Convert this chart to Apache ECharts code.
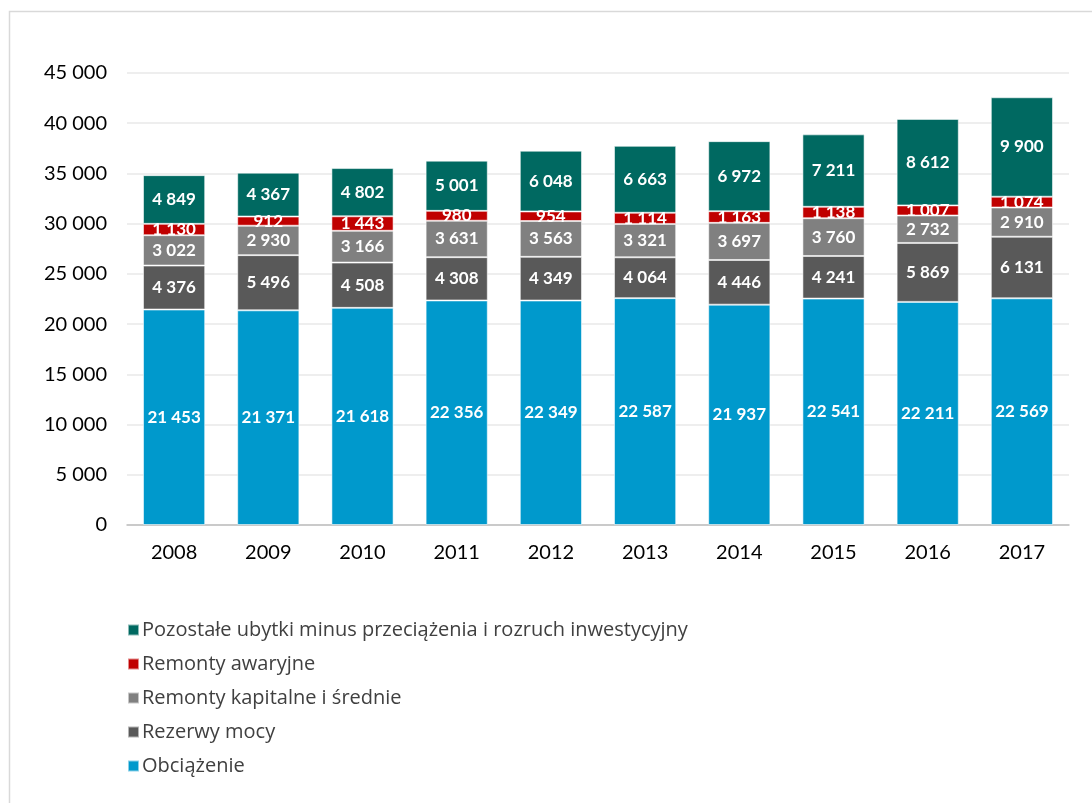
<!DOCTYPE html>
<html>
<head>
<meta charset="utf-8">
<script src="https://cdn.jsdelivr.net/npm/echarts@6/dist/echarts.min.js"></script>
<style>html,body{margin:0;padding:0;background:#fff;}#c{width:1092px;height:803px;}</style>
</head>
<body>
<div id="c"></div>
<script>
const years = ['2008','2009','2010','2011','2012','2013','2014','2015','2016','2017'];
const obciazenie = [21453,21371,21618,22356,22349,22587,21937,22541,22211,22569];
const rezerwy = [4376,5496,4508,4308,4349,4064,4446,4241,5869,6131];
const kapitalne = [3022,2930,3166,3631,3563,3321,3697,3760,2732,2910];
const awaryjne = [1130,912,1443,980,954,1114,1163,1138,1007,1074];
const pozostale = [4849,4367,4802,5001,6048,6663,6972,7211,8612,9900];
const seriesNames = ['Obciążenie','Rezerwy mocy','Remonty kapitalne i średnie','Remonty awaryjne','Pozostałe ubytki minus przeciążenia i rozruch inwestycyjny'];
const yTicks = {min:0, max:45000, interval:5000};

function fmt(v){ return String(v).replace(/\B(?=(\d{3})+(?!\d))/g,' '); }
const font = 'Lato, "Open Sans", sans-serif';
const colors = ['#0099CC','#595959','#808080','#C00000','#006961'];
const datas = [obciazenie, rezerwy, kapitalne, awaryjne, pozostale];

const chart = echarts.init(document.getElementById('c'));
chart.setOption({
  animation:false,
  backgroundColor:'#fff',
  graphic:[{type:'rect', shape:{x:9.5,y:11.5,width:1100,height:800}, style:{fill:'none',stroke:'#d9d9d9',lineWidth:1.5}}],
  grid:{left:127,right:23,top:73,bottom:278},
  legend:{
    orient:'vertical', left:122, top:615,
    data: seriesNames.slice().reverse(),
    itemWidth:11, itemHeight:11, itemGap:14, icon:'rect',
    textStyle:{fontFamily:'"Open Sans", sans-serif',fontSize:20,color:'#404040',padding:[0,0,0,-2]}
  },
  xAxis:{type:'category',data:years,
    axisLine:{lineStyle:{color:'#bfbfbf',width:1.5}},axisTick:{show:false},
    axisLabel:{fontFamily:font,fontSize:20,color:'#000',margin:18}},
  yAxis:{type:'value',min:yTicks.min,max:yTicks.max,interval:yTicks.interval,
    axisLine:{show:false},axisTick:{show:false},
    splitLine:{lineStyle:{color:'#e8e8e8',width:1.5}},
    axisLabel:{fontFamily:font,fontSize:20,color:'#000',margin:20,formatter:v=>fmt(v)}},
  series: datas.map((d,i)=>({
    name:seriesNames[i], type:'bar', stack:'s', data:d,
    barWidth:'66%',
    itemStyle:{color:colors[i],borderColor:'rgba(255,255,255,0.55)',borderWidth:1},
    label:{show:true,position:'inside',color:'#fff',fontFamily:font,fontWeight:'bold',fontSize:17,formatter:p=>fmt(p.value)}
  }))
});
</script>
</body>
</html>
